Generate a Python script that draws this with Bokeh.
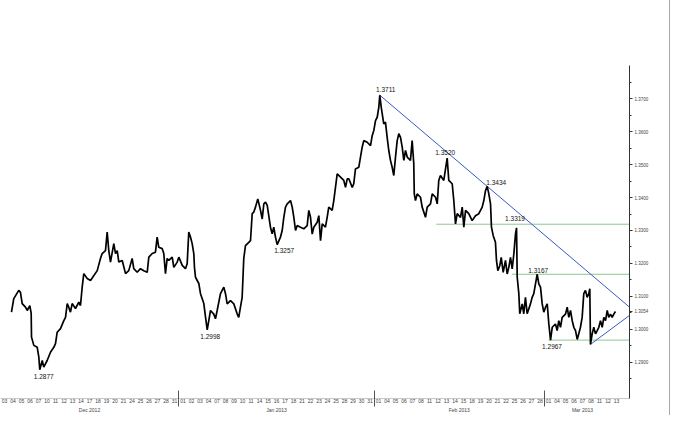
from bokeh.plotting import figure
from bokeh.models import LinearAxis, FixedTicker, PrintfTickFormatter, Range1d
from bokeh.embed import file_html
from bokeh.resources import INLINE
from bokeh.core.properties import value

# ---------------- data ----------------
month_names = ["Dec 2012", "Jan 2013", "Feb 2013", "Mar 2013"]
dec_days = [3, 4, 5, 6, 7, 10, 11, 12, 13, 14, 17, 18, 19, 20, 21, 24, 25, 26, 27, 28, 31]
jan_days = [1, 2, 3, 4, 7, 8, 9, 10, 11, 14, 15, 16, 17, 18, 21, 22, 23, 24, 25, 28, 29, 30, 31]
feb_days = [1, 4, 5, 6, 7, 8, 11, 12, 13, 14, 15, 18, 19, 20, 21, 22, 25, 26, 27, 28]
mar_days = [1, 4, 5, 6, 7, 8, 11, 12, 13]

# time in trading-day units (0 = 03 Dec 2012), price EUR/USD
bar_time = [
    0.82, 1.09, 1.68, 1.88, 2.08, 2.47, 2.67, 2.98, 3.14, 3.18,
    3.45, 3.85, 4.04, 4.15, 4.44, 4.62, 5.02, 5.41, 5.80, 6.00,
    6.20, 6.59, 6.98, 7.18, 7.38, 7.56, 7.76, 7.96, 8.35, 8.74,
    8.94, 9.14, 9.33, 9.73, 10.12, 10.91, 11.29, 11.49, 11.88, 12.08,
    12.27, 12.47, 12.86, 13.06, 13.26, 13.45, 13.85, 14.24, 14.62, 15.02,
    15.21, 15.61, 16.00, 16.39, 16.79, 16.98, 17.38, 17.76, 17.96, 18.15,
    18.55, 18.74, 18.94, 19.14, 19.33, 19.73, 19.92, 20.32, 20.51, 20.91,
    21.29, 21.49, 21.68, 21.88, 22.08, 22.27, 22.35, 22.47, 22.86, 23.06,
    23.45, 23.65, 23.85, 24.24, 24.62, 24.82, 25.02, 25.41, 25.80, 26.00,
    26.20, 26.59, 26.98, 27.38, 27.56, 27.76, 27.96, 28.15, 28.35, 28.74,
    28.94, 29.14, 29.33, 29.53, 29.80, 30.12, 30.32, 30.51, 30.71, 30.91,
    31.09, 31.29, 31.49, 31.68, 31.88, 32.08, 32.47, 32.67, 32.86, 33.06,
    33.26, 33.65, 33.85, 34.04, 34.24, 34.44, 34.82, 35.21, 35.61, 35.80,
    36.00, 36.20, 36.39, 36.79, 36.98, 37.18, 37.38, 37.76, 37.96, 38.15,
    38.55, 38.74, 38.94, 39.14, 39.53, 39.92, 40.12, 40.32, 40.51, 40.91,
    41.09, 41.29, 41.68, 42.08, 42.27, 42.67, 43.06, 43.26, 43.45, 43.65,
    43.85, 44.04, 44.15, 44.32, 44.44, 44.62, 44.82, 45.02, 45.21, 45.41,
    45.61, 45.80, 46.00, 46.20, 46.39, 46.59, 46.79, 46.98, 47.18, 47.38,
    47.76, 47.96, 48.15, 48.21, 48.35, 48.55, 48.94, 49.14, 49.53, 49.73,
    50.12, 50.32, 50.71, 50.91, 51.09, 51.29, 51.68, 52.08, 52.27, 52.67,
    52.86, 53.06, 53.26, 53.65, 53.85, 54.04, 54.24, 54.62, 55.02, 55.41,
    55.80, 56.20, 56.39, 56.59, 56.79, 56.98, 57.18, 57.29, 57.49, 57.76,
    57.88, 58.04, 58.27, 58.44, 58.67, 58.94, 59.14, 59.33, 59.53, 59.73,
    59.92, 60.12, 60.24, 60.32, 60.51, 60.62, 60.91, 61.09, 61.29, 61.49,
    61.88, 62.08, 62.27, 62.47, 62.67, 62.86, 63.06, 63.26, 63.45, 63.65,
    63.85, 64.04, 64.24, 64.44, 64.82, 65.02, 65.21, 65.41, 65.61, 66.00,
    66.20, 66.39, 66.59, 66.79, 66.98, 67.18, 67.38, 67.56, 67.76, 67.96,
    68.15, 68.35, 68.55, 68.74, 68.86, 68.94, 69.14, 69.33, 69.53, 69.73,
    69.92, 70.12, 70.32, 70.51, 70.71, 70.91, 71.09, 71.29, 71.49, 71.68,
    71.88,
]
bar_price = [
    1.3052, 1.3093, 1.3118, 1.3112, 1.3078, 1.3067, 1.3057, 1.3072, 1.3048, 1.2976,
    1.2951, 1.2945, 1.2915, 1.2877, 1.2905, 1.2885, 1.2905, 1.2930, 1.2945, 1.2956,
    1.2991, 1.3002, 1.3026, 1.3036, 1.3078, 1.3067, 1.3052, 1.3078, 1.3063, 1.3082,
    1.3072, 1.3128, 1.3169, 1.3154, 1.3148, 1.3178, 1.3215, 1.3230, 1.3239, 1.3295,
    1.3239, 1.3204, 1.3260, 1.3230, 1.3239, 1.3204, 1.3209, 1.3169, 1.3178, 1.3215,
    1.3184, 1.3173, 1.3184, 1.3178, 1.3173, 1.3219, 1.3230, 1.3234, 1.3280, 1.3249,
    1.3245, 1.3230, 1.3169, 1.3215, 1.3209, 1.3219, 1.3188, 1.3204, 1.3219, 1.3194,
    1.3184, 1.3199, 1.3295, 1.3280, 1.3260, 1.3230, 1.3188, 1.3158, 1.3139, 1.3108,
    1.3078, 1.3037, 1.2998, 1.3057, 1.3046, 1.3032, 1.3057, 1.3108, 1.3128, 1.3108,
    1.3077, 1.3087, 1.3077, 1.3046, 1.3036, 1.3067, 1.3097, 1.3215, 1.3254, 1.3264,
    1.3269, 1.3351, 1.3356, 1.3371, 1.3396, 1.3361, 1.3335, 1.3381, 1.3386, 1.3376,
    1.3345, 1.3310, 1.3290, 1.3310, 1.3280, 1.3257, 1.3280, 1.3300, 1.3340, 1.3371,
    1.3381, 1.3391, 1.3371, 1.3340, 1.3300, 1.3315, 1.3310, 1.3305, 1.3315, 1.3361,
    1.3340, 1.3289, 1.3310, 1.3325, 1.3345, 1.3269, 1.3320, 1.3310, 1.3340, 1.3371,
    1.3361, 1.3391, 1.3431, 1.3472, 1.3462, 1.3452, 1.3431, 1.3457, 1.3457, 1.3431,
    1.3442, 1.3487, 1.3492, 1.3553, 1.3573, 1.3568, 1.3558, 1.3588, 1.3604, 1.3634,
    1.3644, 1.3675, 1.3711, 1.3675, 1.3654, 1.3624, 1.3629, 1.3583, 1.3543, 1.3513,
    1.3492, 1.3467, 1.3523, 1.3573, 1.3594, 1.3583, 1.3553, 1.3513, 1.3543, 1.3523,
    1.3513, 1.3573, 1.3503, 1.3411, 1.3391, 1.3411, 1.3401, 1.3371, 1.3340, 1.3371,
    1.3381, 1.3411, 1.3401, 1.3381, 1.3452, 1.3467, 1.3452, 1.3520, 1.3452, 1.3442,
    1.3391, 1.3320, 1.3351, 1.3340, 1.3371, 1.3310, 1.3361, 1.3351, 1.3330, 1.3345,
    1.3351, 1.3371, 1.3391, 1.3421, 1.3434, 1.3411, 1.3381, 1.3310, 1.3285, 1.3264,
    1.3209, 1.3178, 1.3193, 1.3218, 1.3173, 1.3209, 1.3168, 1.3188, 1.3218, 1.3183,
    1.3228, 1.3290, 1.3308, 1.3158, 1.3108, 1.3047, 1.3077, 1.3047, 1.3097, 1.3047,
    1.3077, 1.3097, 1.3108, 1.3138, 1.3167, 1.3138, 1.3128, 1.3077, 1.3052, 1.3067,
    1.3077, 1.3016, 1.2967, 1.3006, 1.3016, 1.2996, 1.3026, 1.3006, 1.3036, 1.3046,
    1.3067, 1.3036, 1.3057, 1.3026, 1.3006, 1.2996, 1.2969, 1.2986, 1.3006, 1.3036,
    1.3108, 1.3118, 1.3097, 1.3108, 1.3123, 1.2954, 1.2986, 1.3006, 1.2986, 1.2996,
    1.3006, 1.3026, 1.3006, 1.3036, 1.3026, 1.3057, 1.3036, 1.3046, 1.3036, 1.3046,
    1.3054,
]

# swing highs / lows that are labelled
level_time = [4.15, 23.85, 32.08, 44.15, 52.08, 56.79, 60.24, 62.67, 64.24]
level_price = [1.2877, 1.2998, 1.3257, 1.3711, 1.3520, 1.3434, 1.3319, 1.3167, 1.2967]
level_text = ["1.2877", "1.2998", "1.3257", "1.3711", "1.3520", "1.3434", "1.3319", "1.3167", "1.2967"]

# horizontal support / resistance levels (price, first day)
green_price = [1.3319, 1.3167, 1.2967]
green_from = [50.8, 59.7, 64.0]

# falling trend line anchors and rising support line anchors
res_time = [44.15, 56.79]
res_price = [1.3711, 1.3434]
sup_time = [68.94, 73.53]
sup_price = [1.2954, 1.3042]

last_price = 1.3054
price_ticks = [1.29, 1.30, 1.31, 1.32, 1.33, 1.34, 1.35, 1.36, 1.37]
price_minor = [1.285, 1.295, 1.305, 1.315, 1.325, 1.335, 1.345, 1.355, 1.365, 1.375]

# ---------------- derived axis info ----------------
month_days = [dec_days, jan_days, feb_days, mar_days]
day_ticks, day_labels, month_edges, month_centers = [], {}, [], []
idx = 0
for days in month_days:
    start = idx
    for d in days:
        day_ticks.append(idx)
        day_labels[idx] = "%02d" % d
        idx += 1
    if start > 0:
        month_edges.append(start - 0.5)
    month_centers.append((start + idx - 1) / 2.0)
month_labels = {c: n for c, n in zip(month_centers, month_names)}

x_start, x_end = -0.47, 73.53
FONT = "Liberation Sans"

p = figure(frame_width=629, frame_height=333,
           x_range=Range1d(x_start, x_end), y_range=Range1d(1.27896, 1.38012),
           y_axis_location="right", toolbar_location=None, output_backend="svg",
           min_border_left=0, min_border_right=40, min_border_top=65, min_border_bottom=0)
p.xgrid.visible = False
p.ygrid.visible = False
p.outline_line_color = None
p.background_fill_color = "white"
p.border_fill_color = "white"
p.styles = {"border-right": "1px solid #a8a8a8"}

# right price axis
ya = p.yaxis[0]
ya.ticker = FixedTicker(ticks=price_ticks + [last_price], minor_ticks=price_minor)
ya.formatter = PrintfTickFormatter(format="%.4f")
ya.axis_line_color = "#333333"
ya.major_tick_line_color = "#333333"
ya.minor_tick_line_color = "#333333"
ya.major_tick_in = 0
ya.major_tick_out = 3
ya.minor_tick_in = 0
ya.minor_tick_out = 2
ya.major_label_standoff = 2
ya.major_label_text_font = FONT
ya.major_label_text_font_size = "4.5px"
ya.major_label_text_color = "#444444"

# bottom day axis
xa = p.xaxis[0]
xa.ticker = FixedTicker(ticks=day_ticks, minor_ticks=month_edges)
xa.major_label_overrides = day_labels
xa.axis_line_color = "#c8c8c8"
xa.major_tick_line_color = None
xa.major_tick_in = 0
xa.major_tick_out = 0
xa.minor_tick_line_color = "#555555"
xa.minor_tick_in = 8
xa.minor_tick_out = 0
xa.major_label_standoff = 0
xa.major_label_text_font = FONT
xa.major_label_text_font_size = "5px"
xa.major_label_text_color = "#444444"

# month axis (its minor ticks continue the month separators)
ma = LinearAxis(ticker=FixedTicker(ticks=month_centers, minor_ticks=month_edges),
                major_label_overrides=month_labels)
ma.axis_line_color = None
ma.major_tick_line_color = None
ma.major_tick_in = 0
ma.major_tick_out = 0
ma.minor_tick_line_color = "#555555"
ma.minor_tick_in = 10
ma.minor_tick_out = 1
ma.major_label_standoff = 0
ma.major_label_text_font = FONT
ma.major_label_text_font_size = "5px"
ma.major_label_text_color = "#444444"
p.add_layout(ma, "below")

# horizontal levels
p.segment(x0=green_from, y0=green_price, x1=[x_end] * len(green_price), y1=green_price,
          line_color="#8cc88c", line_width=1)

# trend line from the top, extended to the right edge
slope = (res_price[1] - res_price[0]) / (res_time[1] - res_time[0])
p.line([res_time[0], x_end], [res_price[0], res_price[0] + slope * (x_end - res_time[0])],
       line_color="#3a58c0", line_width=1)
p.line(sup_time, sup_price, line_color="#3a58c0", line_width=1)

# price
p.line(bar_time, bar_price, line_color="black", line_width=1.7)

# labels
label_dx = [4, 3, 7, 6, -2, 9, -1.5, 1, 1.5]
label_dy = [7, 6.5, 6, -6, -6, -4, -6, -3.5, 6.5]
p.text(x=level_time, y=level_price, text=level_text, x_offset=label_dx, y_offset=label_dy,
       text_font=value(FONT), text_font_size=value("6.5px"), text_color="#111111",
       text_align="center", text_baseline="middle")

open("out.html", "w").write(file_html(p, INLINE))
